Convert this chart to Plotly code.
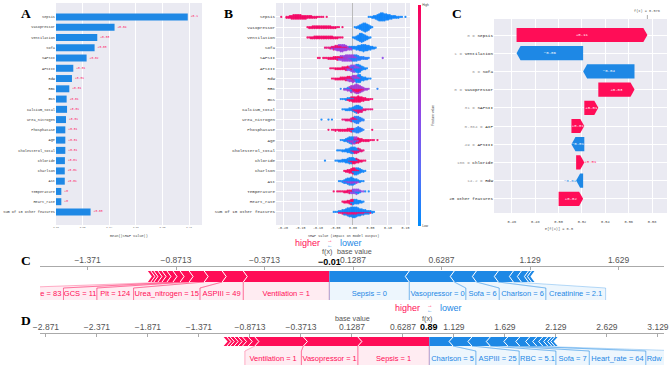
import plotly.graph_objects as go

W, H = 669, 366
BG = "#EAEAF2"
RED = "#FF0D57"
BLUE = "#1E88E5"
MONO = "Liberation Mono"
SANS = "Liberation Sans"
SERIF = "Liberation Serif"

# ---------------- data ----------------
features = ["Sepsis", "Vasopressor", "Ventilation", "Sofa", "SAPSII", "APSIII", "Rdw", "RBC", "GCS",
            "Calcium_total", "Urea_nitrogen", "Phosphatase", "Age", "Cholesterol_total", "Chloride",
            "Charlson", "Ast", "Temperature", "Heart_rate", "Sum of 10 other features"]
mean_abs_shap = [0.099, 0.044, 0.031, 0.029, 0.023, 0.013, 0.012, 0.010, 0.008, 0.0083, 0.0075, 0.007,
                 0.007, 0.007, 0.0067, 0.0066, 0.0066, 0.004, 0.004, 0.026]
a_ticks = [0.00, 0.02, 0.04, 0.06, 0.08, 0.10]
b_ticks = [-0.20, -0.15, -0.10, -0.05, 0.00, 0.05, 0.10, 0.15]

# beeswarm: per feature, segments of (first bin, feature value colour 0..1, counts per 0.005 bin)
BIN = 0.005
swarm = [
    [(-0.205, 0.95, [1, 0, 0, 2, 2, 3, 4, 5, 5, 5, 5, 5, 4, 4, 4, 3, 3, 3, 2, 2, 2, 1, 1, 1, 1, 0, 1]),
     (0.045, 0.05, [1, 1, 2, 3, 4, 6, 8, 9, 9, 8, 7, 6, 5, 4, 3, 3, 2, 2, 1, 1, 0, 1])],
    [(-0.13, 0.95, [1, 2, 2, 3, 3, 3, 3, 3, 3, 3, 3, 3, 3, 3, 2, 2, 2, 1, 1, 0, 1]),
     (0.005, 0.05, [1, 2, 3, 5, 7, 9, 10, 8, 6, 3, 1])],
    [(-0.13, 0.95, [1, 1, 2, 2, 3, 3, 3, 3, 3, 3, 3, 3, 3, 3, 3, 2, 2, 2, 1, 1, 1]),
     (0.0, 0.05, [1, 2, 4, 6, 9, 10, 8, 6, 4, 2, 1])],
    [(-0.08, 0.9, [1, 1, 1, 2, 2, 3, 3, 3, 3, 3, 2, 2, 2, 1, 1, 1]),
     (-0.06, 0.55, [1, 1, 2, 3, 4, 5, 6, 5, 4, 3, 2, 2, 1]),
     (-0.01, 0.05, [1, 1, 2, 3, 4, 5, 6, 7, 8, 7, 6, 5, 4, 3, 2, 1])],
    [(-0.1, 0.95, [1, 1, 0, 1, 1, 1, 2, 2, 2, 3, 3, 3, 2, 2, 2, 1, 1]),
     (-0.045, 0.55, [1, 2, 3, 4, 5, 6, 7, 6, 5, 4, 3, 2]),
     (-0.01, 0.1, [1, 2, 3, 4, 5, 5, 4, 3, 3, 2, 2, 1]),
     (0.085, 0.5, [1])],
    [(-0.065, 0.95, [1, 1, 1, 2, 2, 2, 2, 3, 3, 3, 3, 2, 2, 1]),
     (-0.02, 0.5, [1, 2, 3, 4, 5, 5, 4, 3, 2, 1]),
     (-0.005, 0.05, [1, 2, 3, 5, 7, 6, 4, 3, 2, 1])],
    [(-0.06, 0.95, [1, 1, 2, 2, 2, 3, 3, 3, 3, 3, 3, 2, 2]),
     (-0.02, 0.6, [1, 2, 3, 4, 5, 5, 4, 3, 2]),
     (0.0, 0.05, [1, 2, 4, 6, 7, 5, 4, 3, 2, 1, 1])],
    [(-0.035, 0.1, [1, 0, 1, 1, 2, 2, 3]),
     (-0.025, 0.6, [1, 1, 2, 3, 4, 5, 6, 7, 6, 5, 4, 3, 2, 2, 1]),
     (-0.005, 0.95, [1, 2, 3, 4, 4, 3, 2, 1]),
     (0.07, 0.1, [1])],
    [(-0.035, 0.05, [1, 1, 1, 2, 2, 2, 2, 2, 1]),
     (-0.015, 0.95, [1, 2, 3, 4, 5, 6, 7, 6, 5, 4, 3, 2, 2, 1, 1])],
    [(-0.03, 0.05, [1, 1, 2, 2, 3, 3, 4, 5, 6, 5, 4, 3]),
     (0.0, 0.9, [1, 2, 3, 4, 3, 3, 2, 2, 1, 1, 1, 1])],
    [(-0.09, 0.05, [1, 0, 0, 0, 1, 0, 1]),
     (-0.03, 0.9, [1, 1, 2, 2, 2, 3, 3, 3, 2, 1]),
     (-0.005, 0.1, [1, 2, 4, 6, 7, 5, 3, 2])],
    [(-0.07, 0.95, [1, 0, 1, 1, 2, 1, 2, 2, 2, 2, 2, 3, 3, 3, 2]),
     (-0.005, 0.1, [1, 2, 4, 6, 7, 5, 3, 1]),
     (0.055, 0.95, [1])],
    [(-0.035, 0.05, [1, 1, 2, 3, 4, 5, 5, 4, 3, 2, 1]),
     (-0.015, 0.6, [1, 2, 3, 4, 4, 3, 2, 1]),
     (0.005, 0.95, [1, 2, 3, 3, 3, 2, 2, 2, 2, 1, 1, 1]),
     (0.07, 0.95, [1])],
    [(-0.045, 0.05, [1, 1, 1, 2, 2, 3, 4, 5, 6, 5, 4, 3, 2, 1]),
     (-0.005, 0.9, [1, 2, 3, 3, 3, 2, 2, 1])],
    [(-0.08, 0.05, [1]),
     (-0.05, 0.05, [1, 1, 2, 2, 3, 3, 4, 5, 6, 5, 4, 3, 2, 1]),
     (-0.01, 0.95, [1, 2, 3, 3, 3, 3, 2, 2, 1, 1])],
    [(-0.025, 0.95, [1, 2, 3, 4, 5, 5, 4, 3, 2, 1]),
     (0.0, 0.05, [2, 4, 5, 5, 4, 3, 2, 1])],
    [(-0.04, 0.05, [1, 1, 2, 3, 4, 5, 6, 6, 5, 4, 3, 2, 2, 1, 1]),
     (-0.025, 0.6, [1, 1, 2, 2, 3, 3, 2, 2, 1])],
    [(-0.055, 0.95, [1, 0, 1, 1, 1, 1, 2, 2, 3, 3, 2, 1]),
     (-0.01, 0.5, [1, 2, 3, 4, 4, 3, 2, 1, 1]),
     (0.0, 0.05, [1, 1, 2, 2, 1, 0, 0, 1, 0, 1])],
    [(-0.03, 0.95, [1, 2, 2, 3, 4, 4, 3]),
     (-0.005, 0.05, [2, 3, 5, 5, 4, 3, 2, 1])],
    [(-0.055, 0.05, [1, 1, 1, 2, 2, 3, 4, 5, 6, 7, 8, 9, 9, 8, 7, 6, 5, 4, 4, 3, 3, 2, 2, 1]),
     (-0.04, 0.9, [1, 1, 2, 2, 2, 3, 3, 3, 3, 3, 3, 2, 2, 2, 2, 1, 1, 1, 1])],
]

# waterfall
wf_names = ["Sepsis", "Ventilation", "Sofa", "Vasopressor", "SAPSII", "AIP", "APSIII", "Chloride", "Rdw",
            "20 other features"]
wf_fvals = ["0", "1", "6", "0", "31", "0.364", "49", "106", "14.2", ""]
wf_shap = [0.112, -0.057, -0.044, 0.031, 0.012, 0.011, -0.011, 0.007, -0.006, 0.021]
wf_base = 0.5
wf_ticks = [0.46, 0.48, 0.50, 0.52, 0.54, 0.56, 0.58]

# force plots
fc_base = 0.1287
fc_red_names = ["Ventilation = 1", "ASPIII = 49", "Urea_nitrogen = 15", "Plt = 124", "GCS = 11",
                "Heart_rate = 83", "", "", "", "", "", ""]
fc_red_vals = [0.486, 0.119, 0.102, 0.085, 0.051, 0.040, 0.034, 0.028, 0.023, 0.023, 0.017, 0.017]
fc_blue_names = ["Sepsis = 0", "Vasopressor = 0", "Sofa = 6", "Charlson = 6", "Creatinine = 2.1", "", "", "", ""]
fc_blue_vals = [0.452, 0.254, 0.125, 0.124, 0.085, 0.045, 0.040, 0.017, 0.017]

fd_base = 0.1287
fd_red_names = ["Sepsis = 1", "Vasopressor = 1", "Ventilation = 1", "", "", "", "", "", "", ""]
fd_red_vals = [0.70, 0.534, 0.476, 0.065, 0.056, 0.043, 0.039, 0.039, 0.032, 0.032]
fd_blue_names = ["Charlson = 5", "ASPIII = 25", "RBC = 5.1", "Sofa = 7", "Heart_rate = 64", "Rdw = 14.6",
                 "", "", "", "", "", ""]
fd_blue_vals = [0.233, 0.185, 0.180, 0.172, 0.117, 0.097, 0.069, 0.059, 0.049, 0.039, 0.029, 0.029]


# ---------------- helpers ----------------
def pxx(p):
    return p / W


def pxy(p):
    return 1 - p / H


def minus(s):
    return s.replace("-", "\u2212")


fig = go.Figure()

# ---------------- Panel A ----------------
rows = list(range(len(features)))
a_text = ["+" + f"{round(v, 2):g}" for v in mean_abs_shap]
fig.add_trace(go.Bar(x=mean_abs_shap, y=rows, orientation="h", marker_color=BLUE, marker_line_width=0,
                     width=0.68, text=a_text, textposition="outside", constraintext="none",
                     textfont=dict(color=RED, size=3.0, family=MONO), cliponaxis=False,
                     xaxis="x", yaxis="y", showlegend=False, hoverinfo="skip"))

# ---------------- Panel B (beeswarm) ----------------
STEP = 0.085
bx, by, bc = [], [], []
for i, segs in enumerate(swarm):
    bins = {}
    for x0, c, counts in segs:
        for k, n in enumerate(counts):
            key = round(x0 + k * BIN, 4)
            bins.setdefault(key, []).append([c] * n)
    for key, groups in bins.items():
        groups = [list(g) for g in groups]
        merged = []
        while any(groups):
            for g in groups:
                if g:
                    merged.append(g.pop())
        for j, c in enumerate(merged):
            off = ((j + 1) // 2) * STEP * (1 if j % 2 else -1)
            bx.append(key)
            by.append(i + off)
            bc.append(c)
fig.add_trace(go.Scatter(x=bx, y=by, mode="markers", xaxis="x2", yaxis="y2", showlegend=False,
                         hoverinfo="skip",
                         marker=dict(size=2.3, color=bc, coloraxis="coloraxis", opacity=0.9, line_width=0)))

# ---------------- Panel C (waterfall) ----------------
n = len(wf_shap)
starts, ends = [0] * n, [0] * n
cur = wf_base
for i in range(n - 1, -1, -1):
    starts[i] = cur
    cur += wf_shap[i]
    ends[i] = cur
wf_fx = cur
WF_DOM = (494, 667)
WF_RNG = (0.4447, 0.5928)
wf_ppu = (WF_DOM[1] - WF_DOM[0]) / (WF_RNG[1] - WF_RNG[0])
hh = 0.39
for i in range(n):
    s, e, v = starts[i], ends[i], wf_shap[i]
    head = min(4 / wf_ppu, abs(v) * 0.6)
    if v > 0:
        px_ = [s, e - head, e, e - head, s, s]
        col = RED
    else:
        px_ = [s, e + head, e, e + head, s, s]
        col = BLUE
    py_ = [i - hh, i - hh, i, i + hh, i + hh, i - hh]
    fig.add_trace(go.Scatter(x=px_, y=py_, fill="toself", fillcolor=col, mode="lines", line_width=0,
                             xaxis="x3", yaxis="y3", showlegend=False, hoverinfo="skip"))
    lab = minus(f"{v:+.2f}")
    if abs(v) * wf_ppu >= 10:
        fig.add_trace(go.Scatter(x=[(s + e) / 2], y=[i], mode="text", text=[lab],
                                 textfont=dict(color="white", size=4, family=MONO),
                                 xaxis="x3", yaxis="y3", showlegend=False, hoverinfo="skip"))
    else:
        fig.add_trace(go.Scatter(x=[e], y=[i], mode="text", text=[lab],
                                 textposition="middle right" if v > 0 else "middle left",
                                 textfont=dict(color=col, size=4, family=MONO),
                                 xaxis="x3", yaxis="y3", showlegend=False, hoverinfo="skip"))
wf_ticktext = [(f'<span style="color:#999999">{fv} = </span>{nm}' if fv else nm)
               for nm, fv in zip(wf_names, wf_fvals)]


# ---------------- force plots ----------------
def force_plot(xa, ya, base, red_names, red_vals, blue_names, blue_vals, dom_px, rng,
               bar_t, bar_b, conn_b, text_y, sep_b):
    ppu = (dom_px[1] - dom_px[0]) / (rng[1] - rng[0])
    fx = base + sum(red_vals) - sum(blue_vals)
    chev = 4 / ppu
    mid = (bar_t + bar_b) / 2
    kw = dict(xaxis=xa, yaxis=ya, showlegend=False, hoverinfo="skip")
    # red
    cum = 0
    prev_l = None
    for i, (nm, v) in enumerate(zip(red_names, red_vals)):
        xr = fx - cum
        xl = xr - v
        cum += v
        if i == 0:
            xs = [xl, xr, xr, xl, xl + chev, xl]
            ys = [bar_t, bar_t, bar_b, bar_b, mid, bar_t]
        else:
            xs = [xl, xr, xr + chev, xr, xl, xl + chev, xl]
            ys = [bar_t, bar_t, mid, bar_b, bar_b, mid, bar_t]
        fig.add_trace(go.Scatter(x=xs, y=ys, fill="toself", fillcolor=RED, mode="lines", line_width=0, **kw))
        if i > 0:
            fig.add_trace(go.Scatter(x=[xr, xr + chev, xr], y=[bar_t, mid, bar_b], mode="lines",
                                     line=dict(color="white", width=1), **kw))
        if nm:
            wu = (3.3 * len(nm) + 7) / ppu
            br = xr if prev_l is None else min(xr, prev_l)
            bl = xl if (br - xl) >= wu else br - wu
            prev_l = bl
            fig.add_trace(go.Scatter(x=[xl, xr, br, br, bl, bl, xl],
                                     y=[bar_b, bar_b, conn_b, sep_b, sep_b, conn_b, bar_b],
                                     fill="toself", fillcolor="rgba(255,13,87,0.08)", mode="lines",
                                     line_width=0, **kw))
            for (a, b) in [(xl, bl), (xr, br)]:
                fig.add_trace(go.Scatter(x=[a, b, b], y=[bar_b, conn_b, sep_b], mode="lines",
                                         line=dict(color="rgba(255,13,87,0.45)", width=0.7), **kw))
            fig.add_trace(go.Scatter(x=[(bl + br) / 2], y=[text_y], mode="text", text=[nm],
                                     textfont=dict(color=RED, size=7.5, family=SANS), **kw))
    # blue
    cum = 0
    prev_r = None
    for i, (nm, v) in enumerate(zip(blue_names, blue_vals)):
        xl = fx + cum
        xr = xl + v
        cum += v
        if i == 0:
            xs = [xl, xr, xr - chev, xr, xl, xl]
            ys = [bar_t, bar_t, mid, bar_b, bar_b, bar_t]
        else:
            xs = [xl, xr, xr - chev, xr, xl, xl - chev, xl]
            ys = [bar_t, bar_t, mid, bar_b, bar_b, mid, bar_t]
        fig.add_trace(go.Scatter(x=xs, y=ys, fill="toself", fillcolor=BLUE, mode="lines", line_width=0, **kw))
        if i > 0:
            fig.add_trace(go.Scatter(x=[xl, xl - chev, xl], y=[bar_t, mid, bar_b], mode="lines",
                                     line=dict(color="white", width=1), **kw))
        if nm:
            wu = (3.3 * len(nm) + 7) / ppu
            bl = xl if prev_r is None else max(xl, prev_r)
            br = xr if (xr - bl) >= wu else bl + wu
            prev_r = br
            fig.add_trace(go.Scatter(x=[xl, xr, br, br, bl, bl, xl],
                                     y=[bar_b, bar_b, conn_b, sep_b, sep_b, conn_b, bar_b],
                                     fill="toself", fillcolor="rgba(30,136,229,0.08)", mode="lines",
                                     line_width=0, **kw))
            for (a, b) in [(xl, bl), (xr, br)]:
                fig.add_trace(go.Scatter(x=[a, b, b], y=[bar_b, conn_b, sep_b], mode="lines",
                                         line=dict(color="rgba(30,136,229,0.45)", width=0.7), **kw))
            fig.add_trace(go.Scatter(x=[(bl + br) / 2], y=[text_y], mode="text", text=[nm],
                                     textfont=dict(color=BLUE, size=7.5, family=SANS), **kw))
    ticks = [base + 0.5 * k for k in range(-12, 13) if rng[0] <= base + 0.5 * k <= rng[1]]
    ticktext = [minus(f"{t:.4g}") for t in ticks]
    return fx, ticks, ticktext


FC_DOM, FC_RNG = (40, 664), (-1.6397, 1.8856)
FD_DOM, FD_RNG = (40, 664), (-2.930, 3.188)
fc_fx, fc_ticks, fc_tt = force_plot("x4", "y4", fc_base, fc_red_names, fc_red_vals, fc_blue_names,
                                    fc_blue_vals, FC_DOM, FC_RNG, 4, 15, 21, 27, 33)
fd_fx, fd_ticks, fd_tt = force_plot("x5", "y5", fd_base, fd_red_names, fd_red_vals, fd_blue_names,
                                    fd_blue_vals, FD_DOM, FD_RNG, 3, 12, 17, 25, 31)

# ---------------- layout ----------------
grid = "white"
A_DOM, B_DOM = (56, 202), (276, 410)
AB_Y = (3, 225)
WF_Y = (19, 213)
FC_Y, FD_Y = (267, 305), (334, 366)

small_tick = dict(family=MONO, size=2.4, color="#444")
layout = dict(
    width=W, height=H, margin=dict(l=0, r=0, t=0, b=0, autoexpand=False),
    paper_bgcolor="white", plot_bgcolor="white", showlegend=False,
    xaxis=dict(domain=[pxx(A_DOM[0]), pxx(A_DOM[1])], anchor="y", range=[0, 0.1097],
               tickvals=a_ticks, ticktext=[f"{t:.2f}" for t in a_ticks], tickfont=small_tick,
               showgrid=True, gridcolor=grid, gridwidth=0.7, zeroline=False, ticks="", showline=False),
    yaxis=dict(domain=[pxy(AB_Y[1]), pxy(AB_Y[0])], anchor="x", range=[20.27, -1.36],
               tickvals=rows, ticktext=features, tickfont=dict(family=MONO, size=3.6, color="#333"),
               showgrid=False, zeroline=False, ticks=""),
    xaxis2=dict(domain=[pxx(B_DOM[0]), pxx(B_DOM[1])], anchor="y2", range=[-0.22, 0.163],
                tickvals=b_ticks, ticktext=[f"{t:.2f}" for t in b_ticks],
                tickfont=dict(family=MONO, size=3.3, color="#444"),
                showgrid=True, gridcolor=grid, gridwidth=0.7, zeroline=True, zerolinecolor="#bbbbbb",
                zerolinewidth=0.8, ticks=""),
    yaxis2=dict(domain=[pxy(AB_Y[1]), pxy(AB_Y[0])], anchor="x2", range=[20.27, -1.36],
                tickvals=rows, ticktext=features, tickfont=dict(family=MONO, size=4.2, color="#333"),
                showgrid=True, gridcolor=grid, gridwidth=0.5, zeroline=False, ticks=""),
    xaxis3=dict(domain=[pxx(WF_DOM[0]), pxx(WF_DOM[1])], anchor="y3", range=list(WF_RNG),
                tickvals=wf_ticks, ticktext=[f"{t:.2f}" for t in wf_ticks],
                tickfont=dict(family=MONO, size=3.6, color="#444"), ticklabelstandoff=5,
                showgrid=True, gridcolor=grid, gridwidth=0.7, zeroline=False, ticks=""),
    yaxis3=dict(domain=[pxy(WF_Y[1]), pxy(WF_Y[0])], anchor="x3", range=[9.78, -0.88],
                tickvals=list(range(n)), ticktext=wf_ticktext,
                tickfont=dict(family=MONO, size=4.3, color="#222"),
                showgrid=True, gridcolor=grid, gridwidth=0.5, zeroline=False, ticks=""),
    xaxis4=dict(domain=[pxx(FC_DOM[0]), pxx(FC_DOM[1])], anchor="y4", range=list(FC_RNG), side="top",
                tickvals=fc_ticks, ticktext=fc_tt, tickfont=dict(family=SANS, size=8.5, color="#555"),
                showline=True, linecolor="#aaaaaa", linewidth=1, ticks="inside", ticklen=3,
                tickcolor="#aaaaaa", showgrid=False, zeroline=False),
    yaxis4=dict(domain=[pxy(FC_Y[1]), pxy(FC_Y[0])], anchor="x4", range=[FC_Y[1] - FC_Y[0], 0],
                visible=False, showgrid=False, zeroline=False),
    xaxis5=dict(domain=[pxx(FD_DOM[0]), pxx(FD_DOM[1])], anchor="y5", range=list(FD_RNG), side="top",
                tickvals=fd_ticks, ticktext=fd_tt, tickfont=dict(family=SANS, size=8.5, color="#555"),
                showline=True, linecolor="#aaaaaa", linewidth=1, ticks="inside", ticklen=3,
                tickcolor="#aaaaaa", showgrid=False, zeroline=False),
    yaxis5=dict(domain=[pxy(FD_Y[1]), pxy(FD_Y[0])], anchor="x5", range=[FD_Y[1] - FD_Y[0], 0],
                visible=False, showgrid=False, zeroline=False),
    coloraxis=dict(cmin=0, cmax=1,
                   colorscale=[[0, "#008bfb"], [0.25, "#5b6ef8"], [0.5, "#8d4ae8"], [0.75, "#c528b5"],
                               [1, "#ff0051"]],
                   colorbar=dict(x=pxx(418), xanchor="left", y=pxy(5), yanchor="top", len=221 / H,
                                 lenmode="fraction", thickness=3, thicknessmode="pixels", outlinewidth=0,
                                 tickvals=[0, 1], ticktext=["Low", "High"], ticks="",
                                 tickfont=dict(family=SANS, size=3.2, color="#444"), xpad=0, ypad=0,
                                 title=dict(text="Feature value", side="right",
                                            font=dict(family=SANS, size=3.4, color="#444")))),
    shapes=[], annotations=[],
)
for k in ["xaxis", "yaxis", "xaxis2", "yaxis2", "xaxis3", "yaxis3", "xaxis4", "yaxis4", "xaxis5", "yaxis5"]:
    layout[k]["automargin"] = False
fig.update_layout(**layout)

# gray plot backgrounds
for xr_, yr_ in [("x", "y"), ("x2", "y2"), ("x3", "y3")]:
    fig.add_shape(type="rect", xref=f"{xr_} domain", yref=f"{yr_} domain", x0=0, x1=1, y0=0, y1=1,
                  fillcolor=BG, line_width=0, layer="below")

# waterfall f(x) marker
fig.add_shape(type="line", xref="x3", yref="paper", x0=wf_fx, x1=wf_fx, y0=pxy(19), y1=pxy(15),
              line=dict(color="#777", width=0.6))


def ann(x, y, text, size, color="#333", family=SANS, xref="paper", xanchor="center", **kw):
    fig.add_annotation(x=x, y=y, xref=xref, yref="paper", text=text, showarrow=False,
                       xanchor=xanchor, yanchor="middle",
                       font=dict(family=family, size=size, color=color), **kw)


ann(wf_fx, pxy(11), f"f(x) = {wf_fx:.3f}", 3.6, "#555", MONO, xref="x3")
ann(wf_base, pxy(229), f"E[f(X)] = {wf_base:g}", 3.6, "#555", MONO, xref="x3")
ann((A_DOM[0] + A_DOM[1]) / 2 / W, pxy(236), "mean(|SHAP value|)", 3.5, "#444", MONO)
ann((B_DOM[0] + B_DOM[1]) / 2 / W, pxy(236), "SHAP value (impact on model output)", 3.4, "#444", MONO)

# panel letters
for lx, ly, t in [(26, 13, "A"), (228, 13, "B"), (457, 13, "C"), (26, 260, "C"), (26, 320, "D")]:
    ann(pxx(lx), pxy(ly), f"<b>{t}</b>", 13.5, "black", SERIF)

# force plot annotations
for fx, base, xr_, y_hl, y_lab, y_val in [(fc_fx, fc_base, "x4", 242.5, 251.5, 262),
                                          (fd_fx, fd_base, "x5", 307.5, 318, 327)]:
    ann(fx, pxy(y_val), f"<b>{minus(f'{fx:.2f}')}</b>", 9, "black", SANS, xref=xr_)
    ann(fx, pxy(y_lab), "f(x)", 7.2, "#555", SANS, xref=xr_, xshift=-2)
    ann(base, pxy(y_lab), "base value", 7.2, "#555", SANS, xref=xr_, xshift=1)
    ann(fx, pxy(y_hl), "higher", 9, RED, SANS, xref=xr_, xanchor="right", xshift=-7)
    ann(fx, pxy(y_hl), "lower", 9, BLUE, SANS, xref=xr_, xanchor="left", xshift=9)
    ann(fx, pxy(y_hl - 2.8), "\u2192", 5.5, RED, SANS, xref=xr_, xshift=1)
    ann(fx, pxy(y_hl + 2.8), "\u2190", 5.5, BLUE, SANS, xref=xr_, xshift=1)

fig.write_html("out.html", config={"displayModeBar": False},
               post_script="document.body.style.margin='0';document.body.style.padding='0';"
                           "document.body.style.overflow='hidden';")
